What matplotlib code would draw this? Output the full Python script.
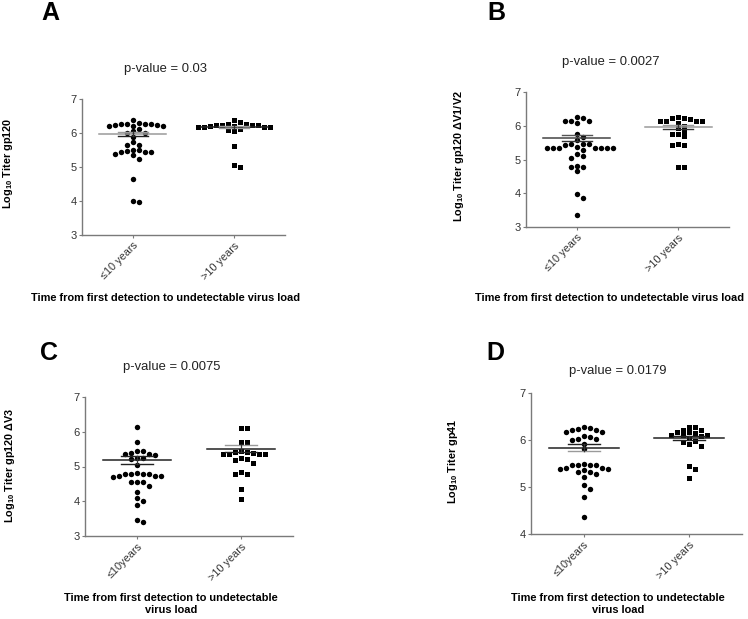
import numpy as np
import matplotlib
matplotlib.use("Agg")
import matplotlib.pyplot as plt

plt.rcParams['font.family'] = ['Liberation Sans', 'DejaVu Sans']
plt.rcParams['mathtext.fontset'] = 'custom'
plt.rcParams['mathtext.rm'] = 'Liberation Sans:bold'
plt.rcParams['mathtext.bf'] = 'Liberation Sans:bold'
plt.rcParams['mathtext.default'] = 'bf'

W, H = 748, 619

# ---------------- data ----------------
A_le10 = [6.27, 6.26, 6.22, 6.22, 6.28, 6.22, 6.24, 6.25, 6.26, 6.27, 6.38, 6.06, 5.99, 6.12,
          5.99, 5.89, 5.73, 5.65, 5.65, 5.50, 5.47, 5.43, 5.43, 5.43, 5.50, 5.38, 5.35, 5.23,
          4.66, 3.98, 4.01]
A_gt10 = [6.31, 6.26, 6.19, 6.25, 6.18, 6.24, 6.13, 6.22, 6.06, 6.24, 6.09, 6.25, 6.17, 6.27,
          6.18, 6.38, 6.22, 5.62, 4.99, 5.07]
B_le10 = [6.15, 6.13, 6.25, 6.14, 6.22, 6.08, 5.58, 5.68, 5.76, 5.44, 5.34, 5.34, 5.34, 5.47,
          5.47, 5.47, 5.34, 5.34, 5.34, 5.34, 5.36, 5.27, 5.11, 5.05, 5.17, 4.77, 4.65, 4.77,
          4.80, 3.99, 3.85, 3.35]
B_gt10 = [6.24, 6.19, 6.15, 6.15, 6.15, 6.15, 6.22, 6.27, 6.00, 5.93, 6.09, 5.75, 5.70, 5.75,
          5.85, 5.42, 5.42, 5.46, 4.78, 4.78]
C_le10 = [6.13, 5.70, 5.36, 5.34, 5.44, 5.44, 5.36, 5.38, 5.24, 5.24, 5.22, 5.04, 4.79, 4.79,
          4.74, 4.79, 4.79, 4.82, 4.70, 4.73, 4.74, 4.56, 4.56, 4.56, 4.43, 4.28, 4.08, 4.00,
          3.88, 3.39, 3.45]
C_gt10 = [6.12, 6.12, 5.71, 5.71, 5.41, 5.39, 5.37, 5.35, 5.36, 5.37, 5.41, 5.44, 5.22, 5.25,
          5.19, 5.11, 4.85, 4.77, 4.78, 4.36, 4.07]
D_le10 = [6.25, 6.22, 6.17, 6.17, 6.21, 6.24, 6.27, 6.09, 5.99, 6.02, 6.02, 6.06, 5.91, 5.80,
          5.48, 5.46, 5.41, 5.38, 5.38, 5.40, 5.46, 5.46, 5.47, 5.32, 5.28, 5.22, 5.32, 5.36,
          5.05, 4.95, 4.78, 4.36]
D_gt10 = [6.18, 6.14, 6.10, 6.28, 6.21, 6.21, 6.28, 6.16, 6.09, 6.04, 6.11, 6.11, 5.95, 5.88,
          5.92, 5.97, 5.44, 5.39, 5.19]

# mean and SEM as drawn in the figure
A_mean, A_sem = [5.97, 6.17], [0.055, 0.035]
B_mean, B_sem = [5.65, 5.97], [0.09, 0.065]
C_mean, C_sem = [5.18, 5.51], [0.12, 0.10]
D_mean, D_sem = [5.84, 6.05], [0.065, 0.045]

letters = ['A', 'B', 'C', 'D']
pvalues = ['p-value = 0.03', 'p-value = 0.0027', 'p-value = 0.0075', 'p-value = 0.0179']
ylabels = ['Log$_{10}$ Titer gp120', 'Log$_{10}$ Titer gp120 \u0394V1/V2',
           'Log$_{10}$ Titer gp120 \u0394V3', 'Log$_{10}$ Titer gp41']
xticklabels = [['\u226410 years', '>10 years'], ['\u226410 years', '>10 years'],
               ['\u226410years', '>10 years'], ['\u226410years', '>10 years']]
xlabels = ['Time from first detection to undetectable virus load',
           'Time from first detection to undetectable virus load',
           'Time from first detection to undetectable\nvirus load',
           'Time from first detection to undetectable\nvirus load']
yranges = [(3, 7), (3, 7), (3, 7), (4, 7)]

# ---------------- layout (pixels) ----------------
panels = [
    dict(ax=(82, 99, 285, 235), letter=(50, 13), p=(165, 69), yl=(8, 163), xl=(166, 298)),
    dict(ax=(526, 92, 729, 227), letter=(496, 13), p=(611, 62), yl=(459, 156), xl=(610, 298)),
    dict(ax=(85, 397, 293, 536), letter=(49, 353), p=(172, 367), yl=(10, 465), xl=(171, 604)),
    dict(ax=(531, 393, 742, 534), letter=(495, 353), p=(618, 371), yl=(453, 461), xl=(618, 604)),
]
line_cols = [
    [('#9a9a9a', '#9a9a9a', '#222222'), ('#222222', '#9a9a9a', '#9a9a9a')],
    [('#444444', '#555555', '#333333'), ('#9a9a9a', '#9a9a9a', '#333333')],
    [('#222222', '#222222', '#222222'), ('#222222', '#9a9a9a', '#222222')],
    [('#222222', '#222222', '#9a9a9a'), ('#222222', '#222222', '#222222')],
]

data = [(A_le10, A_gt10), (B_le10, B_gt10), (C_le10, C_gt10), (D_le10, D_gt10)]
means = [A_mean, B_mean, C_mean, D_mean]
sems = [A_sem, B_sem, C_sem, D_sem]

fig = plt.figure(figsize=(W / 100, H / 100), dpi=100)


def fx(x):
    return x / W


def fy(y):
    return 1 - y / H


def swarm(vals, px_x, px_y, d_px=6.0, dy_px=5.0):
    """Simple beeswarm: offsets on a fixed grid, points in a row when close in y."""
    vals = np.asarray(vals, float)
    order = np.argsort(-vals)
    placed = []
    offs = np.zeros(len(vals))
    cands = [0]
    for j in range(1, 40):
        cands += [j, -j]
    for i in order:
        y = vals[i] * px_y
        for c in cands:
            x = c * d_px
            ok = True
            for (xp, yp) in placed:
                if abs(x - xp) < d_px * 0.9 and abs(y - yp) < dy_px:
                    ok = False
                    break
            if ok:
                offs[i] = x / px_x
                placed.append((x, y))
                break
    return offs


for k, pan in enumerate(panels):
    l, t, r, b = pan['ax']
    ax = fig.add_axes([fx(l), fy(b), (r - l) / W, (b - t) / H])
    y0, y1 = yranges[k]
    ax.set_xlim(0.5, 2.5)
    ax.set_ylim(y0, y1)
    px_x = (r - l) / 2.0
    px_y = (b - t) / (y1 - y0)
    for g, vals in enumerate(data[k]):
        offs = swarm(vals, px_x, px_y)
        ax.plot(g + 1 + offs, vals, linestyle='none',
                marker='o' if g == 0 else 's', ms=3.9 if g == 0 else 3.6,
                color='black', mew=0, clip_on=False, zorder=3)
        m, s = means[k][g], sems[k][g]
        cm, cu, cl = line_cols[k][g]
        ax.plot([g + 1 - 0.33, g + 1 + 0.33], [m, m], color=cm, lw=1.1, zorder=4)
        ax.plot([g + 1 - 0.15, g + 1 + 0.15], [m + s, m + s], color=cu, lw=1.0, zorder=4)
        ax.plot([g + 1 - 0.15, g + 1 + 0.15], [m - s, m - s], color=cl, lw=1.0, zorder=4)
        ax.plot([g + 1, g + 1], [m - s, m + s], color='#333333', lw=0.9, zorder=4)
    for sp in ['top', 'right']:
        ax.spines[sp].set_visible(False)
    for sp in ['left', 'bottom']:
        ax.spines[sp].set_color('#7a7a7a')
        ax.spines[sp].set_linewidth(1.0)
    ax.set_yticks(range(y0, y1 + 1))
    ax.set_xticks([1, 2])
    ax.set_xticklabels(xticklabels[k], rotation=45, ha='right', rotation_mode='anchor',
                       fontsize=7.8, color='#333333')
    ax.tick_params(axis='both', length=2.5, width=0.8, color='#7a7a7a', pad=1.5)
    ax.tick_params(axis='y', labelsize=8, labelcolor='#333333')
    ax.patch.set_alpha(0)

    fig.text(fx(pan['letter'][0]), fy(pan['letter'][1]), letters[k], fontsize=18,
             fontweight='bold', ha='center', va='center')
    fig.text(fx(pan['p'][0]), fy(pan['p'][1]), pvalues[k], fontsize=9.4,
             ha='center', va='center', color='#222222')
    fig.text(fx(pan['yl'][0]), fy(pan['yl'][1]), ylabels[k], fontsize=7.8,
             fontweight='bold', rotation=90, ha='center', va='center')
    fig.text(fx(pan['xl'][0]), fy(pan['xl'][1]), xlabels[k], fontsize=7.9,
             fontweight='bold', ha='center', va='center', linespacing=1.2)

fig.savefig('out.png', dpi=100)
